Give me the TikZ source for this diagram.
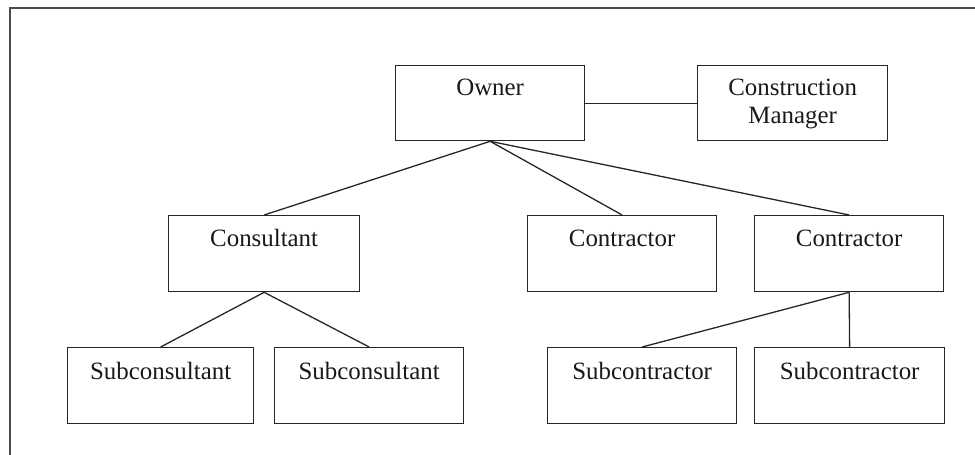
\documentclass[tikz,border=0pt]{standalone}
\usepackage{fontspec}
\setmainfont{Liberation Serif}
\begin{document}
\begin{tikzpicture}[x=1pt,y=-1pt,
  box/.style={draw=black!85, line width=1.3pt, rectangle, inner sep=0pt, anchor=north west},
  lbl/.style={anchor=base, inner sep=0pt, align=center, text=black!90,
    font={\fontsize{24.9}{28}\selectfont}},
  link/.style={draw=black!85, line width=1.3pt}]
  \useasboundingbox (0,0) rectangle (975,455);
  % page frame (only top and left edges show)
  \draw[line width=2pt, black!70] (10,455) -- (10,7.5) -- (975,7.5);

  % boxes: position = top-left corner, size from extents
  \node[box, minimum width=189pt, minimum height=75pt] (owner) at (395,65) {};
  \node[box, minimum width=190pt, minimum height=75pt] (cm)    at (697,65) {};
  \node[box, minimum width=191pt, minimum height=76pt] (cons)  at (168,215) {};
  \node[box, minimum width=189pt, minimum height=76pt] (ctr1)  at (527,215) {};
  \node[box, minimum width=189pt, minimum height=76pt] (ctr2)  at (754,215) {};
  \node[box, minimum width=186pt, minimum height=76pt] (sc1)   at (67,347) {};
  \node[box, minimum width=189pt, minimum height=76pt] (sc2)   at (274,347) {};
  \node[box, minimum width=189pt, minimum height=76pt] (sk1)   at (547,347) {};
  \node[box, minimum width=190pt, minimum height=76pt] (sk2)   at (754,347) {};

  % labels set near the top of each box (base = baseline of the last line)
  \node[lbl] (ownerT) at ([yshift=-30pt]owner.north) {Owner};
  \node[lbl] (cmT)    at ([yshift=-58pt]cm.north) {Construction\\Manager};
  \node[lbl] (consT)  at ([yshift=-31pt]cons.north) {Consultant};
  \node[lbl] (ctr1T)  at ([yshift=-31pt]ctr1.north) {Contractor};
  \node[lbl] (ctr2T)  at ([yshift=-31pt]ctr2.north) {Contractor};
  \node[lbl] (sc1T)   at ([yshift=-32pt]sc1.north) {Subconsultant};
  \node[lbl] (sc2T)   at ([yshift=-32pt]sc2.north) {Subconsultant};
  \node[lbl] (sk1T)   at ([yshift=-32pt]sk1.north) {Subcontractor};
  \node[lbl] (sk2T)   at ([yshift=-32pt]sk2.north) {Subcontractor};

  % connectors
  \draw[link] (owner.east) -- (cm.west);
  \draw[link] (owner.south) -- (cons.north);
  \draw[link] (owner.south) -- (ctr1.north);
  \draw[link] (owner.south) -- (ctr2.north);
  \draw[link] (cons.south) -- (sc1.north);
  \draw[link] (cons.south) -- (sc2.north);
  \draw[link] (ctr2.south) -- (sk1.north);
  \draw[link] (ctr2.south) -- (sk2.north);
\end{tikzpicture}
\end{document}
